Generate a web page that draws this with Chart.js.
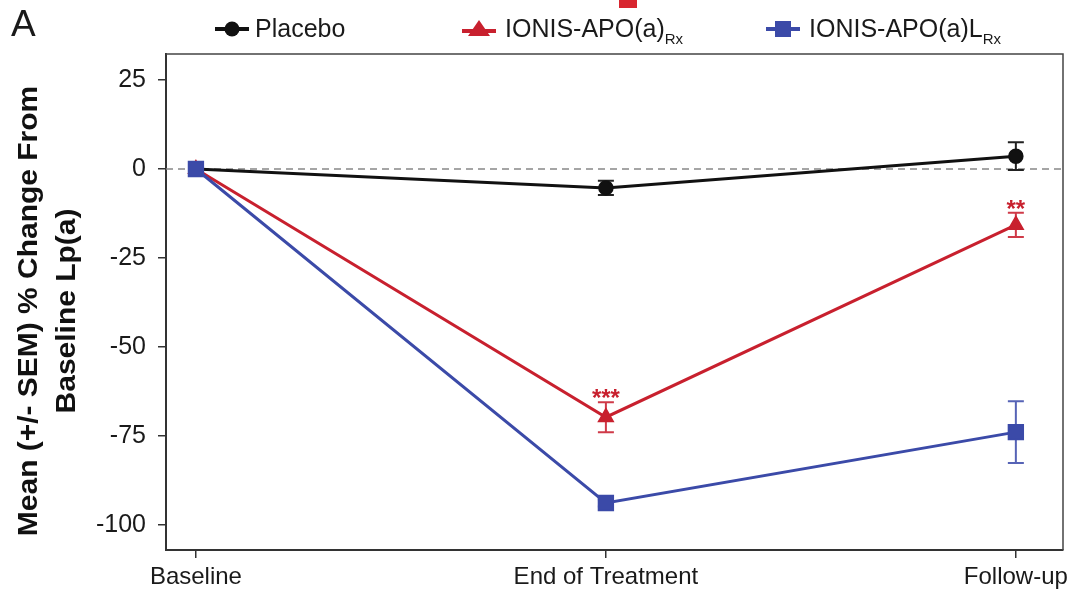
<!DOCTYPE html>
<html>
<head>
<meta charset="utf-8">
<script src="https://cdn.jsdelivr.net/npm/chart.js@4.4.1/dist/chart.umd.min.js"></script>
<style>
  html,body{margin:0;padding:0;background:#fff;}
  #wrap{position:relative;width:1068px;height:595px;overflow:hidden;}
  canvas{position:absolute;left:0;top:0;}
  .lbl{position:absolute;font-family:"Liberation Sans",Arial,sans-serif;color:#1a1a1a;white-space:nowrap;}
  .leg{font-size:25px;top:13px;line-height:30px;}
  .leg sub{font-size:15px;vertical-align:-7px;line-height:0;}
  .mk{position:absolute;top:19px;}
</style>
</head>
<body>
<div id="wrap">
  <canvas id="c" width="1068" height="595"></canvas>
  <div class="lbl" style="left:11px;top:2px;font-size:37px;line-height:44px;">A</div>
  <div style="position:absolute;left:619px;top:0;width:18px;height:8px;background:#d8262f;"></div>
  <svg class="mk" style="left:213px" width="38" height="20"><line x1="2" y1="10" x2="36" y2="10" stroke="#111" stroke-width="4"/><circle cx="19" cy="10" r="7.5" fill="#111"/></svg>
  <div class="lbl leg" style="left:255px">Placebo</div>
  <svg class="mk" style="left:460px" width="38" height="20"><line x1="2" y1="12" x2="36" y2="12" stroke="#c8202e" stroke-width="4"/><polygon points="19,1 30,17 8,17" fill="#c8202e"/></svg>
  <div class="lbl leg" style="left:505px">IONIS-APO(a)<sub>Rx</sub></div>
  <svg class="mk" style="left:764px" width="38" height="20"><line x1="2" y1="10" x2="36" y2="10" stroke="#3b4aa8" stroke-width="4"/><rect x="11" y="2" width="16" height="16" fill="#3b4aa8"/></svg>
  <div class="lbl leg" style="left:809px">IONIS-APO(a)L<sub>Rx</sub></div>
</div>
<script>
const categories = ['Baseline', 'End of Treatment', 'Follow-up'];
const placeboMean = [0, -5.3, 3.6];
const placeboSem  = [0, 2.0, 3.9];
const ionisMean   = [0, -69.7, -15.7];
const ionisSem    = [0, 4.2, 3.4];
const ionisLMean  = [0, -93.8, -73.9];
const ionisLSem   = [0, 1.0, 8.7];
const ionisSig    = ['', '***', '**'];
const yTicks      = [25, 0, -25, -50, -75, -100];
const yTitleLines = ['Mean (+/- SEM) % Change From', 'Baseline Lp(a)'];

const FONT = '"Liberation Sans", Arial, sans-serif';
const pts = arr => arr.map((v, i) => ({x: i, y: v}));

const semByDataset = [placeboSem, ionisSem, ionisLSem];
const sigByDataset = [null, ionisSig, null];
const barColors = ['#222222', '#cf3a48', '#5663b6'];

const extras = {
  id: 'extras',
  beforeDatasetsDraw(chart) {
    const {ctx, chartArea: a, scales: {y}} = chart;
    ctx.save();
    ctx.strokeStyle = '#444';
    ctx.lineWidth = 1.5;
    ctx.beginPath();
    ctx.moveTo(a.left, a.top); ctx.lineTo(a.right, a.top); ctx.lineTo(a.right, a.bottom);
    ctx.stroke();
    const y0 = y.getPixelForValue(0);
    ctx.strokeStyle = '#888';
    ctx.setLineDash([7, 5]);
    ctx.lineWidth = 1.3;
    ctx.beginPath(); ctx.moveTo(a.left, y0); ctx.lineTo(a.right, y0); ctx.stroke();
    ctx.setLineDash([]);
    chart.data.datasets.forEach((ds, di) => {
      const meta = chart.getDatasetMeta(di);
      const sem = semByDataset[di];
      ctx.strokeStyle = barColors[di];
      ctx.lineWidth = 2;
      meta.data.forEach((p, j) => {
        if (!sem[j]) return;
        const v = ds.data[j].y;
        const yt = y.getPixelForValue(v + sem[j]);
        const yb = y.getPixelForValue(v - sem[j]);
        ctx.beginPath();
        ctx.moveTo(p.x, yt); ctx.lineTo(p.x, yb);
        ctx.moveTo(p.x - 8, yt); ctx.lineTo(p.x + 8, yt);
        ctx.moveTo(p.x - 8, yb); ctx.lineTo(p.x + 8, yb);
        ctx.stroke();
      });
    });
    ctx.restore();
  },
  afterDatasetsDraw(chart) {
    const {ctx, scales: {y}} = chart;
    ctx.save();
    chart.data.datasets.forEach((ds, di) => {
      const sig = sigByDataset[di];
      if (!sig) return;
      const meta = chart.getDatasetMeta(di);
      ctx.fillStyle = ds.borderColor;
      ctx.font = 'bold 24px ' + FONT;
      ctx.textAlign = 'center';
      ctx.textBaseline = 'alphabetic';
      meta.data.forEach((p, j) => {
        if (!sig[j]) return;
        const yt = y.getPixelForValue(ds.data[j].y + semByDataset[di][j]);
        ctx.fillText(sig[j], p.x, yt + 4);
      });
    });
    ctx.fillStyle = '#111';
    ctx.font = 'bold 28px ' + FONT;
    ctx.textAlign = 'center';
    ctx.textBaseline = 'middle';
    const xs = [29, 67];
    yTitleLines.forEach((t, i) => {
      ctx.save();
      ctx.translate(xs[i], 311);
      ctx.rotate(-Math.PI / 2);
      ctx.scale(1.07, 1);
      ctx.fillText(t, 0, 0);
      ctx.restore();
    });
    ctx.restore();
  }
};

new Chart(document.getElementById('c'), {
  type: 'line',
  data: {
    datasets: [
      {label: 'Placebo', data: pts(placeboMean), borderColor: '#111111', backgroundColor: '#111111',
       pointStyle: 'circle', pointRadius: 7, pointBorderWidth: 1.5, borderWidth: 3, order: 2},
      {label: 'IONIS-APO(a)Rx', data: pts(ionisMean), borderColor: '#c8202e', backgroundColor: '#c8202e',
       pointStyle: 'triangle', pointRadius: 8.5, pointBorderWidth: 1.5, borderWidth: 3, order: 1},
      {label: 'IONIS-APO(a)LRx', data: pts(ionisLMean), borderColor: '#3b4aa8', backgroundColor: '#3b4aa8',
       pointStyle: 'rect', pointRadius: 10.5, pointBorderWidth: 1.5, borderWidth: 3, order: 0}
    ]
  },
  options: {
    responsive: false,
    animation: false,
    layout: {autoPadding: false, padding: {left: 0, top: 54, right: 5, bottom: 0}},
    plugins: {legend: {display: false}, tooltip: {enabled: false}},
    elements: {line: {tension: 0}},
    scales: {
      x: {
        type: 'linear', min: -0.073, max: 2.115,
        afterBuildTicks: s => { s.ticks = categories.map((c, i) => ({value: i})); },
        afterFit: s => { s.height = 45; s.paddingLeft = 0; s.paddingRight = 0; },
        ticks: {callback: v => categories[v], font: {family: FONT, size: 24}, color: '#1a1a1a', padding: 5, maxRotation: 0, autoSkip: false},
        grid: {display: true, drawOnChartArea: false, drawTicks: true, tickLength: 8, color: '#333', lineWidth: 1.5},
        border: {display: true, color: '#333', width: 2}
      },
      y: {
        min: -107, max: 32.3,
        afterBuildTicks: s => { s.ticks = yTicks.map(v => ({value: v})); },
        afterFit: s => { s.width = 166; s.paddingTop = 0; s.paddingBottom = 0; },
        ticks: {font: {family: FONT, size: 25}, color: '#1a1a1a', padding: 12, autoSkip: false},
        grid: {display: true, drawOnChartArea: false, drawTicks: true, tickLength: 8, color: '#333', lineWidth: 1.5},
        border: {display: true, color: '#333', width: 2}
      }
    }
  },
  plugins: [extras]
});
</script>
</body>
</html>
